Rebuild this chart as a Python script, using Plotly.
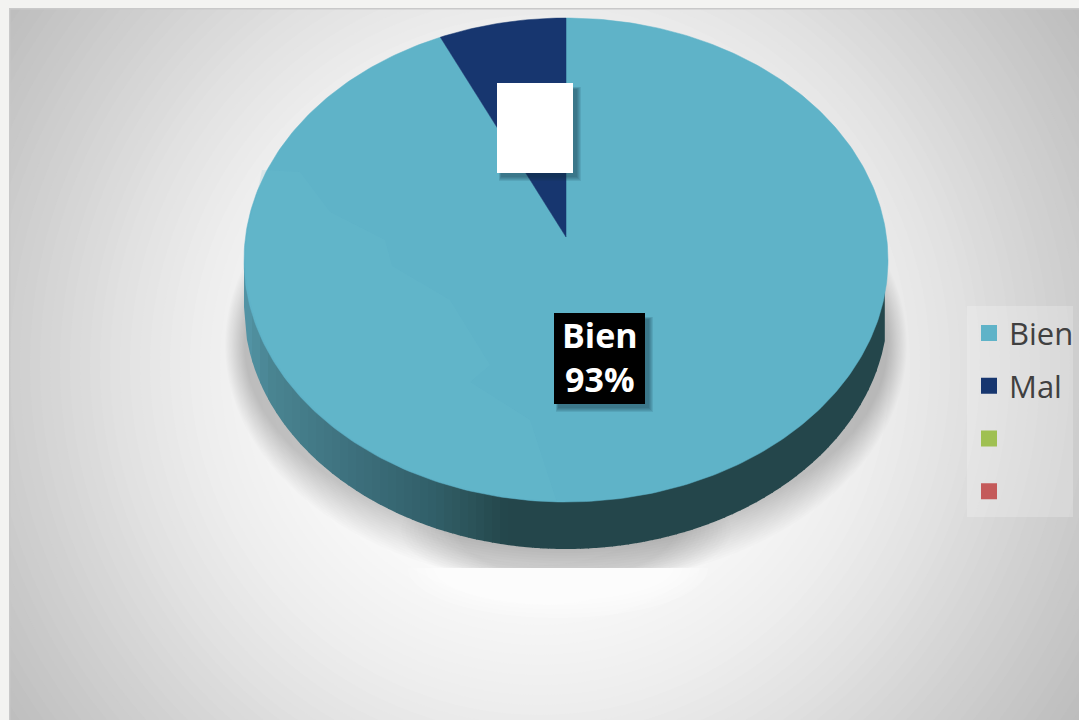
import numpy as np
import plotly.graph_objects as go

categories = ["Bien", "Mal", " ", "  "]
values = [93, 7, 0, 0]
labels_shown = ["Bien<br>93%", "Mal<br>7%"]
colors = ["#5fb3c8", "#17366f", "#9fc052", "#c45a5a"]

W, H = 1079, 720
CX, CY, RX, RY = 566.0, 260.0, 322.0, 242.0
APEX_RISE = 23.0
DEPTH = 47.0
persp = APEX_RISE * 2 / (2 * RY)
d = RX * np.sqrt(1 - persp ** 2)


def project(frac):
    th = 2 * np.pi * np.asarray(frac)
    u, v = np.sin(th), np.cos(th)
    w = 1 + persp * v
    return CX + d * u / w, CY - (RY * v + APEX_RISE) / w


def poly(xs, ys):
    return "M" + "L".join(f"{x:.1f},{y:.1f}" for x, y in zip(xs, ys)) + "Z"


def ell(cx, cy, rx, ry, ymin=None, ymax=None, n=120):
    t = np.linspace(0, 2 * np.pi, n, endpoint=False)
    xs, ys = cx + rx * np.cos(t), cy + ry * np.sin(t)
    if ymax is not None:
        ys = np.minimum(ys, ymax)
    if ymin is not None:
        ys = np.maximum(ys, ymin)
    return poly(xs, ys)


shapes = []

# radial backdrop
BG_D = [0, 200, 300, 350, 430, 531, 645, 700]
BG_V = [255, 253, 242, 237, 225, 208, 190, 185]
for r in np.arange(700, 0, -10):
    g = int(np.interp(r, BG_D, BG_V))
    shapes.append(dict(type="circle", xref="x", yref="y", layer="below",
                       x0=540 - r, x1=540 + r, y0=365 - r, y1=365 + r,
                       fillcolor=f"rgb({g},{g},{g})", line_width=0))

# frame of the chart area
shapes.append(dict(type="rect", xref="x", yref="y", layer="below", x0=9.6, y0=8.6, x1=W + 5, y1=H + 5,
                   fillcolor="rgba(0,0,0,0)", line=dict(color="#c9c9c9", width=1.6)))

# soft cast shadow
for i in range(18):
    k = i / 17
    shapes.append(dict(type="path", xref="x", yref="y", layer="below",
                       path=ell(CX, 345, 341 - 19 * k, 240 - 45 * k, ymax=568),
                       fillcolor="rgba(0,0,0,0.0105)", line_width=0))
for i in range(14):
    k = i / 13
    shapes.append(dict(type="path", xref="x", yref="y", layer="below",
                       path=ell(CX, 530, 165 - 55 * k, 60 - 12 * k, ymax=568),
                       fillcolor="rgba(0,0,0,0.009)", line_width=0))
# bright reflection under the shadow
for i in range(8):
    k = i / 7
    shapes.append(dict(type="path", xref="x", yref="y", layer="below",
                       path=ell(CX - 8, 568, 150 - 60 * k, 50 - 30 * k, ymin=568),
                       fillcolor="rgba(255,255,255,0.22)", line_width=0))

# pie edge
RIM_X = [244, 270, 350, 430, 470, 505, 888]
RIM_R = [84, 74, 62, 50, 44, 36, 36]
RIM_G = [150, 133, 113, 96, 84, 71, 70]
RIM_B = [168, 146, 126, 106, 90, 76, 75]
edges = np.arange(244, 889, 8.0)
for a, b in zip(edges[:-1], edges[1:]):
    xs = np.linspace(a, b + 0.8, 4)
    top = CY + RY * np.sqrt(np.clip(1 - ((xs - CX) / RX) ** 2, 0, 1))
    px = np.r_[xs, xs[::-1]]
    py = np.r_[top - 3, (top + DEPTH)[::-1]]
    m = (a + b) / 2
    c = (int(np.interp(m, RIM_X, RIM_R)), int(np.interp(m, RIM_X, RIM_G)), int(np.interp(m, RIM_X, RIM_B)))
    shapes.append(dict(type="path", xref="x", yref="y", layer="below", path=poly(px, py),
                       fillcolor=f"rgb{c}", line_width=0))

# legend panel
shapes.append(dict(type="rect", xref="x", yref="y", layer="below", x0=967, x1=1073, y0=306, y1=517,
                   fillcolor="rgba(255,255,255,0.22)", line_width=0))

fig = go.Figure()

# pie slices
total = sum(values)
start = 0.0
for name, val, col in zip(categories, values, colors):
    if val > 0:
        f = np.linspace(start, start + val / total, max(int(val * 4), 12))
        rx_, ry_ = project(f)
        ax_, ay_ = CX, CY - APEX_RISE
        fig.add_trace(go.Scatter(x=np.r_[ax_, rx_, ax_], y=np.r_[ay_, ry_, ay_], mode="lines",
                                 fill="toself", fillcolor=col, line=dict(color=col, width=0.5),
                                 name=name, showlegend=False, hoverinfo="name"))
    start += val / total

# legend keys
for name, col in zip(categories, colors):
    fig.add_trace(go.Scatter(x=[None], y=[None], mode="markers", name=name, legendgroup=name,
                             marker=dict(symbol="square", size=17, color=col)))

# faint lighter facet on the lower-left of the top surface
t = np.linspace(np.pi * 0.5 + 0.03, np.pi * 1.08, 40)
fx, fy = CX + RX * np.cos(t) * 0.995, CY + RY * np.sin(t) * 0.995
tail_x = [262, 300, 330, 385, 392, 450, 490, 470, 530]
tail_y = [170, 172, 212, 240, 266, 300, 365, 382, 420]
shapes.append(dict(type="path", xref="x", yref="y", layer="above",
                   path=poly(np.r_[fx, tail_x], np.r_[fy, tail_y]),
                   fillcolor="rgba(110,195,210,0.16)", line_width=0))

# label boxes with their shadows
boxes = [(554, 313, 645, 404, "#000000"), (497, 83, 573, 173, "#ffffff")]
for (x0, y0, x1, y1, col) in boxes:
    for g in range(5):
        shapes.append(dict(type="rect", xref="x", yref="y", layer="above",
                           x0=x0 + 2 + g * 0.5, x1=x1 + 8 - g, y0=y0 + 4 + g * 0.5, y1=y1 + 8 - g,
                           fillcolor="rgba(20,50,60,0.11)", line_width=0))
    shapes.append(dict(type="rect", xref="x", yref="y", layer="above",
                       x0=x0, x1=x1, y0=y0, y1=y1, fillcolor=col, line_width=0))

anns = [
    dict(x=600, y=357, text=f"<b>{labels_shown[0]}</b>", showarrow=False,
         font=dict(color="#ffffff", size=34, family="Open Sans")),
    dict(x=535, y=124, text=f"<b>{labels_shown[1]}</b>", showarrow=False,
         font=dict(color="#ffffff", size=34, family="Open Sans")),
]

fig.update_layout(
    width=W, height=H, margin=dict(l=9, r=0, t=8, b=0),
    paper_bgcolor="#f3f3f1", plot_bgcolor="#f3f3f1",
    xaxis=dict(range=[9, W], visible=False, fixedrange=True),
    yaxis=dict(range=[H, 8], visible=False, fixedrange=True),
    shapes=shapes, annotations=anns,
    font=dict(family="Open Sans", color="#404040"),
    legend=dict(x=(969 - 9) / (W - 9), y=(H - 306.4) / (H - 8), xanchor="left", yanchor="top",
                bgcolor="rgba(0,0,0,0)", font=dict(size=31, color="#404040"),
                tracegroupgap=9.4, itemclick=False, itemdoubleclick=False),
)
fig.write_html("out.html", config={"displayModeBar": False}, post_script="document.body.style.margin='0';")
